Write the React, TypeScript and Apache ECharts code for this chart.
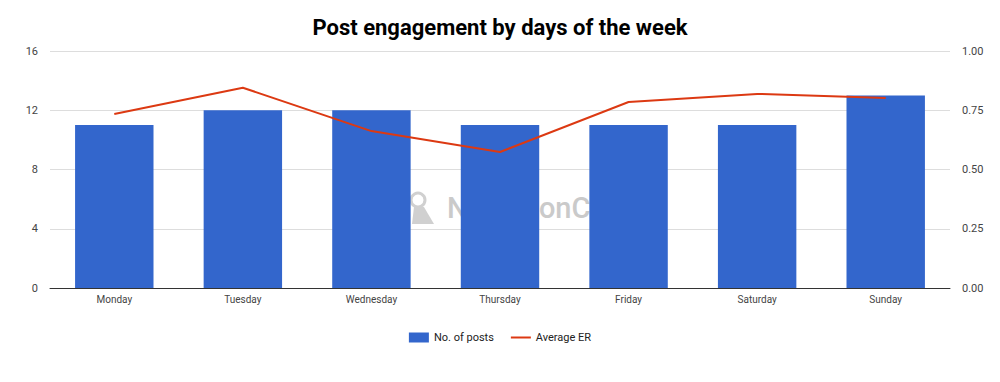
import React, { useEffect, useRef } from "react";
import * as echarts from "echarts";

const days = ["Monday", "Tuesday", "Wednesday", "Thursday", "Friday", "Saturday", "Sunday"];
const posts = [11, 12, 12, 11, 11, 11, 13];
const avgER = [0.734, 0.845, 0.662, 0.574, 0.785, 0.819, 0.802];
const leftTicks = { min: 0, max: 16, interval: 4 };
const rightTicks = { min: 0, max: 1, interval: 0.25 };

export default function App() {
  const ref = useRef<HTMLDivElement>(null);
  useEffect(() => {
    document.body.style.margin = "0";
    const chart = echarts.init(ref.current!, null, { renderer: "svg" });
    chart.setOption({
      animation: false,
      backgroundColor: "#fff",
      textStyle: { fontFamily: "Roboto" },
      title: {
        text: "Post engagement by days of the week",
        left: "center",
        top: 11,
        textStyle: { fontFamily: "Roboto", fontWeight: "bold", fontSize: 22, color: "#000" },
      },
      graphic: [
        {
          type: "text",
          left: 447,
          top: 193,
          z: 0,
          style: { text: "NapoleonCat", fontSize: 29, fontWeight: 500, fontFamily: "Roboto", fill: "#cacaca" },
        },
        {
          type: "circle",
          shape: { cx: 418, cy: 200, r: 7 },
          z: 0,
          style: { fill: "none", stroke: "#d0d0d0", lineWidth: 3 },
        },
        {
          type: "polygon",
          shape: { points: [[414, 207], [424, 207], [434, 224], [412, 224]] },
          z: 0,
          style: { fill: "#d0d0d0" },
        },
      ],
      legend: {
        bottom: 34,
        left: "center",
        itemWidth: 20,
        itemHeight: 10,
        itemGap: 17,
        textStyle: { fontSize: 11, color: "#222", fontFamily: "Roboto" },
        data: [
          { name: "No. of posts", icon: "rect" },
          { name: "Average ER", icon: "path://M0,0 L20,0 L20,2 L0,2 Z" },
        ],
      },
      grid: { left: 50, right: 50, top: 51, bottom: 94, containLabel: false },
      xAxis: {
        type: "category",
        data: days,
        axisTick: { show: false },
        axisLine: { lineStyle: { color: "#333", width: 1 } },
        axisLabel: { fontSize: 10, color: "#444", margin: 6 },
      },
      yAxis: [
        {
          type: "value",
          ...leftTicks,
          axisLabel: { fontSize: 11, color: "#444", margin: 12 },
          splitLine: { lineStyle: { color: "#ddd" } },
          axisLine: { show: false },
          axisTick: { show: false },
        },
        {
          type: "value",
          ...rightTicks,
          axisLabel: { fontSize: 11, color: "#444", margin: 12, formatter: (v: number) => v.toFixed(2) },
          splitLine: { show: false },
          axisLine: { show: false },
          axisTick: { show: false },
        },
      ],
      series: [
        {
          name: "No. of posts",
          type: "bar",
          data: posts,
          barWidth: "61%",
          itemStyle: { color: "#3366cc" },
          z: 2,
        },
        {
          name: "Average ER",
          type: "line",
          yAxisIndex: 1,
          data: avgER,
          showSymbol: false,
          symbol: "none",
          lineStyle: { color: "#dc3912", width: 2 },
          itemStyle: { color: "#dc3912" },
          z: 3,
        },
      ],
    });
    return () => chart.dispose();
  }, []);
  return <div ref={ref} style={{ width: 1000, height: 382 }} />;
}
